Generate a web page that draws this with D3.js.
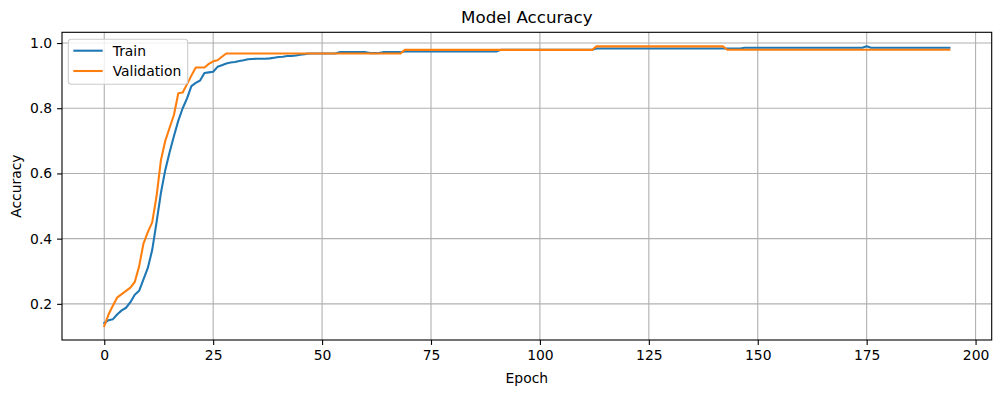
<!DOCTYPE html>
<html><head><meta charset="utf-8">
<script src="https://cdn.jsdelivr.net/npm/d3@7"></script>
<style>body{margin:0;background:#fff}svg{display:block}text{font-family:"DejaVu Sans",sans-serif;fill:#000}</style>
</head><body><svg id="c" width="1001" height="393"></svg>
<script>
const title = "Model Accuracy";
const xLabel = "Epoch";
const yLabel = "Accuracy";
const seriesNames = ["Train", "Validation"];
const xTicks = [0, 25, 50, 75, 100, 125, 150, 175, 200];
const yTicks = [0.2, 0.4, 0.6, 0.8, 1.0];

function rep(v, n) { return Array(n).fill(v); }

const trainAcc = [].concat(
  [0.141,0.150,0.153,0.168,0.180,0.188,0.205,0.228,0.240,0.275,
   0.310,0.365,0.450,0.540,0.610,0.665,0.715,0.762,0.800,0.830,
   0.868,0.878,0.885,0.908,0.910,0.912,0.927,0.932,0.937,0.940,
   0.942,0.945,0.947,0.950,0.951,0.952,0.952,0.952,0.953,0.955,
   0.957,0.958,0.960,0.960,0.962,0.964,0.966],
  rep(0.968, 7),            // 47-53
  rep(0.972, 7),            // 54-60
  rep(0.969, 3),            // 61-63
  rep(0.972, 5),            // 64-68
  rep(0.974, 22),           // 69-90
  rep(0.979, 22),           // 91-112
  rep(0.983, 34),           // 113-146
  rep(0.9856, 28),          // 147-174
  [0.990],                  // 175
  rep(0.9856, 19)           // 176-194
);

const valAcc = [].concat(
  [0.132,0.168,0.195,0.220,0.230,0.240,0.250,0.267,0.315,0.385,
   0.420,0.450,0.530,0.640,0.700,0.740,0.780,0.846,0.848,0.874,
   0.900,0.925,0.925,0.925,0.936,0.944,0.947,0.958],
  rep(0.968, 41),           // 28-68
  rep(0.979, 44),           // 69-112
  rep(0.9897, 30),          // 113-142
  rep(0.9795, 52)           // 143-194
);

const colors = ["#1f77b4", "#ff7f0e"];
const series = [trainAcc, valAcc];

const svg = d3.select("#c");
const L = 62, R = 991.7, T = 32.3, B = 340;
const n = trainAcc.length;
const xr = n - 1;
const x = d3.scaleLinear().domain([-0.05 * xr, xr * 1.05]).range([L, R]);
const all = trainAcc.concat(valAcc);
const mn = d3.min(all), mx = d3.max(all), rg = mx - mn;
const y = d3.scaleLinear().domain([mn - 0.05 * rg, mx + 0.05 * rg]).range([B, T]);

// grid
const g = svg.append("g");
g.selectAll(".gx").data(xTicks.filter(t => x(t) >= L && x(t) <= R)).enter().append("line")
  .attr("x1", d => x(d)).attr("x2", d => x(d)).attr("y1", T).attr("y2", B)
  .attr("stroke", "#b0b0b0").attr("stroke-width", 1.1);
g.selectAll(".gy").data(yTicks).enter().append("line")
  .attr("y1", d => y(d)).attr("y2", d => y(d)).attr("x1", L).attr("x2", R)
  .attr("stroke", "#b0b0b0").attr("stroke-width", 1.1);

// lines
const line = d3.line().x((d, i) => x(i)).y(d => y(d));
series.forEach((s, k) => {
  svg.append("path").datum(s).attr("d", line).attr("fill", "none")
    .attr("stroke", colors[k]).attr("stroke-width", 2.08)
    .attr("stroke-linejoin", "round").attr("stroke-linecap", "square");
});

// axes
const xAxis = d3.axisBottom(x).tickValues(xTicks).tickSize(4.9).tickPadding(5.5).tickFormat(d3.format("d"));
const yAxis = d3.axisLeft(y).tickValues(yTicks).tickSize(4.9).tickPadding(4.9).tickFormat(d3.format(".1f"));
const gx = svg.append("g").attr("transform", `translate(0,${B})`).call(xAxis);
const gy = svg.append("g").attr("transform", `translate(${L},0)`).call(yAxis);
[gx, gy].forEach(a => {
  a.select(".domain").remove();
  a.selectAll("line").attr("stroke", "#000").attr("stroke-width", 1.1);
  a.selectAll("text").attr("font-size", 13.9).attr("font-family", "DejaVu Sans").attr("fill", "#000");
});

// frame
svg.append("rect").attr("x", L).attr("y", T).attr("width", R - L).attr("height", B - T)
  .attr("fill", "none").attr("stroke", "#000").attr("stroke-width", 1.1);

// texts
svg.append("text").attr("x", (L + R) / 2).attr("y", 23).attr("text-anchor", "middle")
  .attr("font-size", 16.7).text(title);
svg.append("text").attr("x", (L + R) / 2).attr("y", 383).attr("text-anchor", "middle")
  .attr("font-size", 13.9).text(xLabel);
svg.append("text").attr("transform", `translate(21,${(T + B) / 2}) rotate(-90)`).attr("text-anchor", "middle")
  .attr("font-size", 13.9).text(yLabel);

// legend
const lg = svg.append("g");
lg.append("rect").attr("x", 68.3).attr("y", 39.3).attr("width", 119.4).attr("height", 45)
  .attr("rx", 3).attr("fill", "#fff").attr("fill-opacity", 0.8)
  .attr("stroke", "#cccccc").attr("stroke-width", 1.1);
seriesNames.forEach((nm, k) => {
  const yy = 50.7 + k * 20.3;
  lg.append("line").attr("x1", 73.3).attr("x2", 102.7).attr("y1", yy).attr("y2", yy)
    .attr("stroke", colors[k]).attr("stroke-width", 2.08);
  lg.append("text").attr("x", 112.7).attr("y", yy + 5).attr("font-size", 13.9).text(nm);
});
</script></body></html>
